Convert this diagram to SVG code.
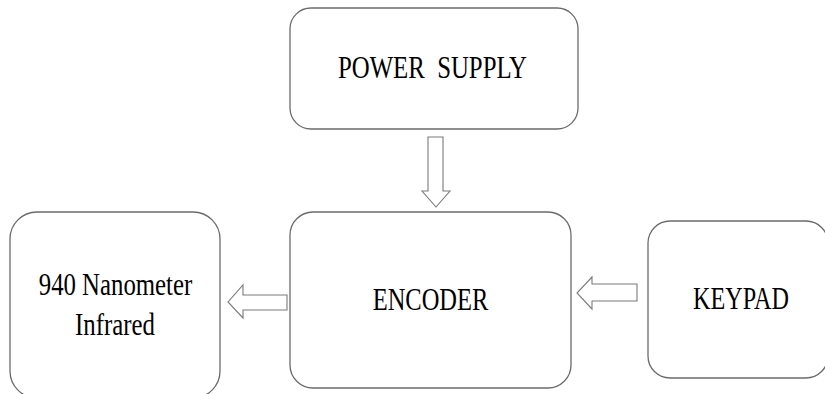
<svg xmlns="http://www.w3.org/2000/svg" width="825" height="394" viewBox="0 0 825 394">
  <style>
    .box { fill: #ffffff; stroke: #6b6b6b; stroke-width: 1.3; }
    .label { font-family: "Liberation Serif", "DejaVu Serif", serif; font-size: 31px; fill: #000000; text-anchor: middle; white-space: pre; }
    .arrow { fill: #ffffff; stroke: #7a7a7a; stroke-width: 1.1; stroke-linejoin: miter; }
  </style>
  <rect width="825" height="394" fill="#ffffff"/>

  <g id="power-supply">
    <rect class="box" x="290" y="8" width="288" height="121" rx="21" ry="21"/>
    <!-- condensed serif caption: scaled horizontally about its centre -->
    <text class="label" transform="translate(432.5,78) scale(0.8,1)" xml:space="preserve">POWER  SUPPLY</text>
  </g>

  <g id="encoder">
    <rect class="box" x="290" y="212" width="281" height="176" rx="23" ry="23"/>
    <text class="label" transform="translate(430.5,310) scale(0.79,1)">ENCODER</text>
  </g>

  <g id="infrared">
    <rect class="box" x="10" y="212" width="210" height="186" rx="27" ry="27"/>
    <text class="label" transform="translate(115.5,295) scale(0.8,1)">940 Nanometer</text>
    <text class="label" transform="translate(115,335) scale(0.8,1)">Infrared</text>
  </g>

  <g id="keypad">
    <rect class="box" x="648" y="221" width="180" height="157" rx="22" ry="22"/>
    <text class="label" transform="translate(741,309) scale(0.78,1)">KEYPAD</text>
  </g>

  <g id="connectors">
    <!-- power supply down to encoder -->
    <polygon class="arrow" points="428,137 443,137 443,191 450,191 436,207 422,191 428,191"/>
    <!-- encoder out to infrared emitter -->
    <polygon class="arrow" points="287,295 287,310 243,310 243,318 228,302 243,285 243,295"/>
    <!-- keypad into encoder -->
    <polygon class="arrow" points="637,284 637,301 592,301 592,309 577,293 592,277 592,284"/>
  </g>
</svg>
